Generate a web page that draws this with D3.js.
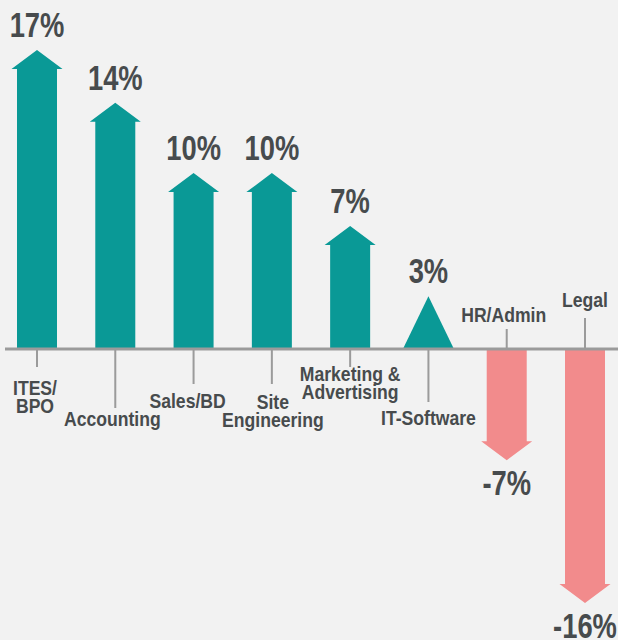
<!DOCTYPE html>
<html>
<head>
<meta charset="utf-8">
<script src="https://cdn.jsdelivr.net/npm/d3@7"></script>
<style>
  body { margin: 0; background: #f2f2f2; }
  svg { display: block; }
  text { font-family: "Liberation Sans", Arial, sans-serif; font-weight: bold; fill: #474b4d; }
</style>
</head>
<body>
<div id="chart"></div>
<script>
// Data
const categories = ["ITES/BPO", "Accounting", "Sales/BD", "Site Engineering",
  "Marketing & Advertising", "IT-Software", "HR/Admin", "Legal"];
const categoryLines = [["ITES/", "BPO"], ["Accounting"], ["Sales/BD"], ["Site", "Engineering"],
  ["Marketing &", "Advertising"], ["IT-Software"], ["HR/Admin"], ["Legal"]];
const growth = [17, 14, 10, 10, 7, 3, -7, -16];
const growthLabels = ["17%", "14%", "10%", "10%", "7%", "3%", "-7%", "-16%"];

// Layout (staggered category labels)
const leaderLen = [18, 59, 35, 35, 18, 53, 20, 31];
const labelOffset = [46, 77, 59, 60, 32, 76, -27, -42];
const labelDx = [-2, -3, -6, 1, 0, 0, -3, 0];

const width = 618, height = 640;
const narrow = 0.76, narrowSmall = 0.88;   // condensed look

const svg = d3.select("#chart")
  .append("svg")
    .attr("width", width)
    .attr("height", height);

const x = d3.scalePoint()
  .domain(categories)
  .range([37, 585]);

const y = d3.scaleLinear()
  .domain([-16, 0, 17])
  .range([603, 349, 50]);

const y0 = y(0);
const shaftHalf = 20, headHalf = 25.5, headH = 19;

function arrowPath(cx, tip) {
  const dir = tip < y0 ? 1 : -1;   // 1 = up, -1 = down
  if (Math.abs(y0 - tip) < 60) {
    // small values are drawn as a bare triangle
    return `M${cx - headHalf},${y0} L${cx},${tip} L${cx + headHalf},${y0} Z`;
  }
  const hb = tip + dir * headH;
  return `M${cx - shaftHalf},${y0} L${cx - shaftHalf},${hb} L${cx - headHalf},${hb}`
    + ` L${cx},${tip} L${cx + headHalf},${hb} L${cx + shaftHalf},${hb} L${cx + shaftHalf},${y0} Z`;
}

// Arrows
svg.append("g")
  .selectAll("path")
  .data(categories)
  .join("path")
    .attr("d", (d, i) => arrowPath(x(d), y(growth[i])))
    .attr("fill", (d, i) => growth[i] >= 0 ? "#0a9996" : "#f28b8c");

// Leader lines
svg.append("g")
  .selectAll("line")
  .data(categories)
  .join("line")
    .attr("x1", d => x(d))
    .attr("x2", d => x(d))
    .attr("y1", y0)
    .attr("y2", (d, i) => growth[i] >= 0 ? y0 + leaderLen[i] : y0 - leaderLen[i])
    .attr("stroke", "#9b9b9b")
    .attr("stroke-width", 2);

// Baseline
svg.append("line")
  .attr("x1", 5)
  .attr("x2", width)
  .attr("y1", y0)
  .attr("y2", y0)
  .attr("stroke", "#9b9b9b")
  .attr("stroke-width", 3);

// Value labels
svg.append("g")
  .selectAll("text")
  .data(categories)
  .join("text")
    .attr("transform", (d, i) => {
      const ty = growth[i] >= 0 ? y(growth[i]) - 13 : y(growth[i]) + 35;
      return `translate(${x(d)},${ty}) scale(${narrow},1)`;
    })
    .attr("text-anchor", "middle")
    .style("font-size", "36px")
    .text((d, i) => growthLabels[i]);

// Category labels
const cat = svg.append("g")
  .selectAll("text")
  .data(categories)
  .join("text")
    .attr("transform", (d, i) => `translate(${x(d) + labelDx[i]},${y0 + labelOffset[i]}) scale(${narrowSmall},1)`)
    .attr("text-anchor", "middle")
    .style("font-size", "20px");

cat.selectAll("tspan")
  .data((d, i) => categoryLines[i].map((t, k) => ({t, k})))
  .join("tspan")
    .attr("x", 0)
    .attr("dy", d => d.k === 0 ? 0 : 18.5)
    .text(d => d.t);
</script>
</body>
</html>
